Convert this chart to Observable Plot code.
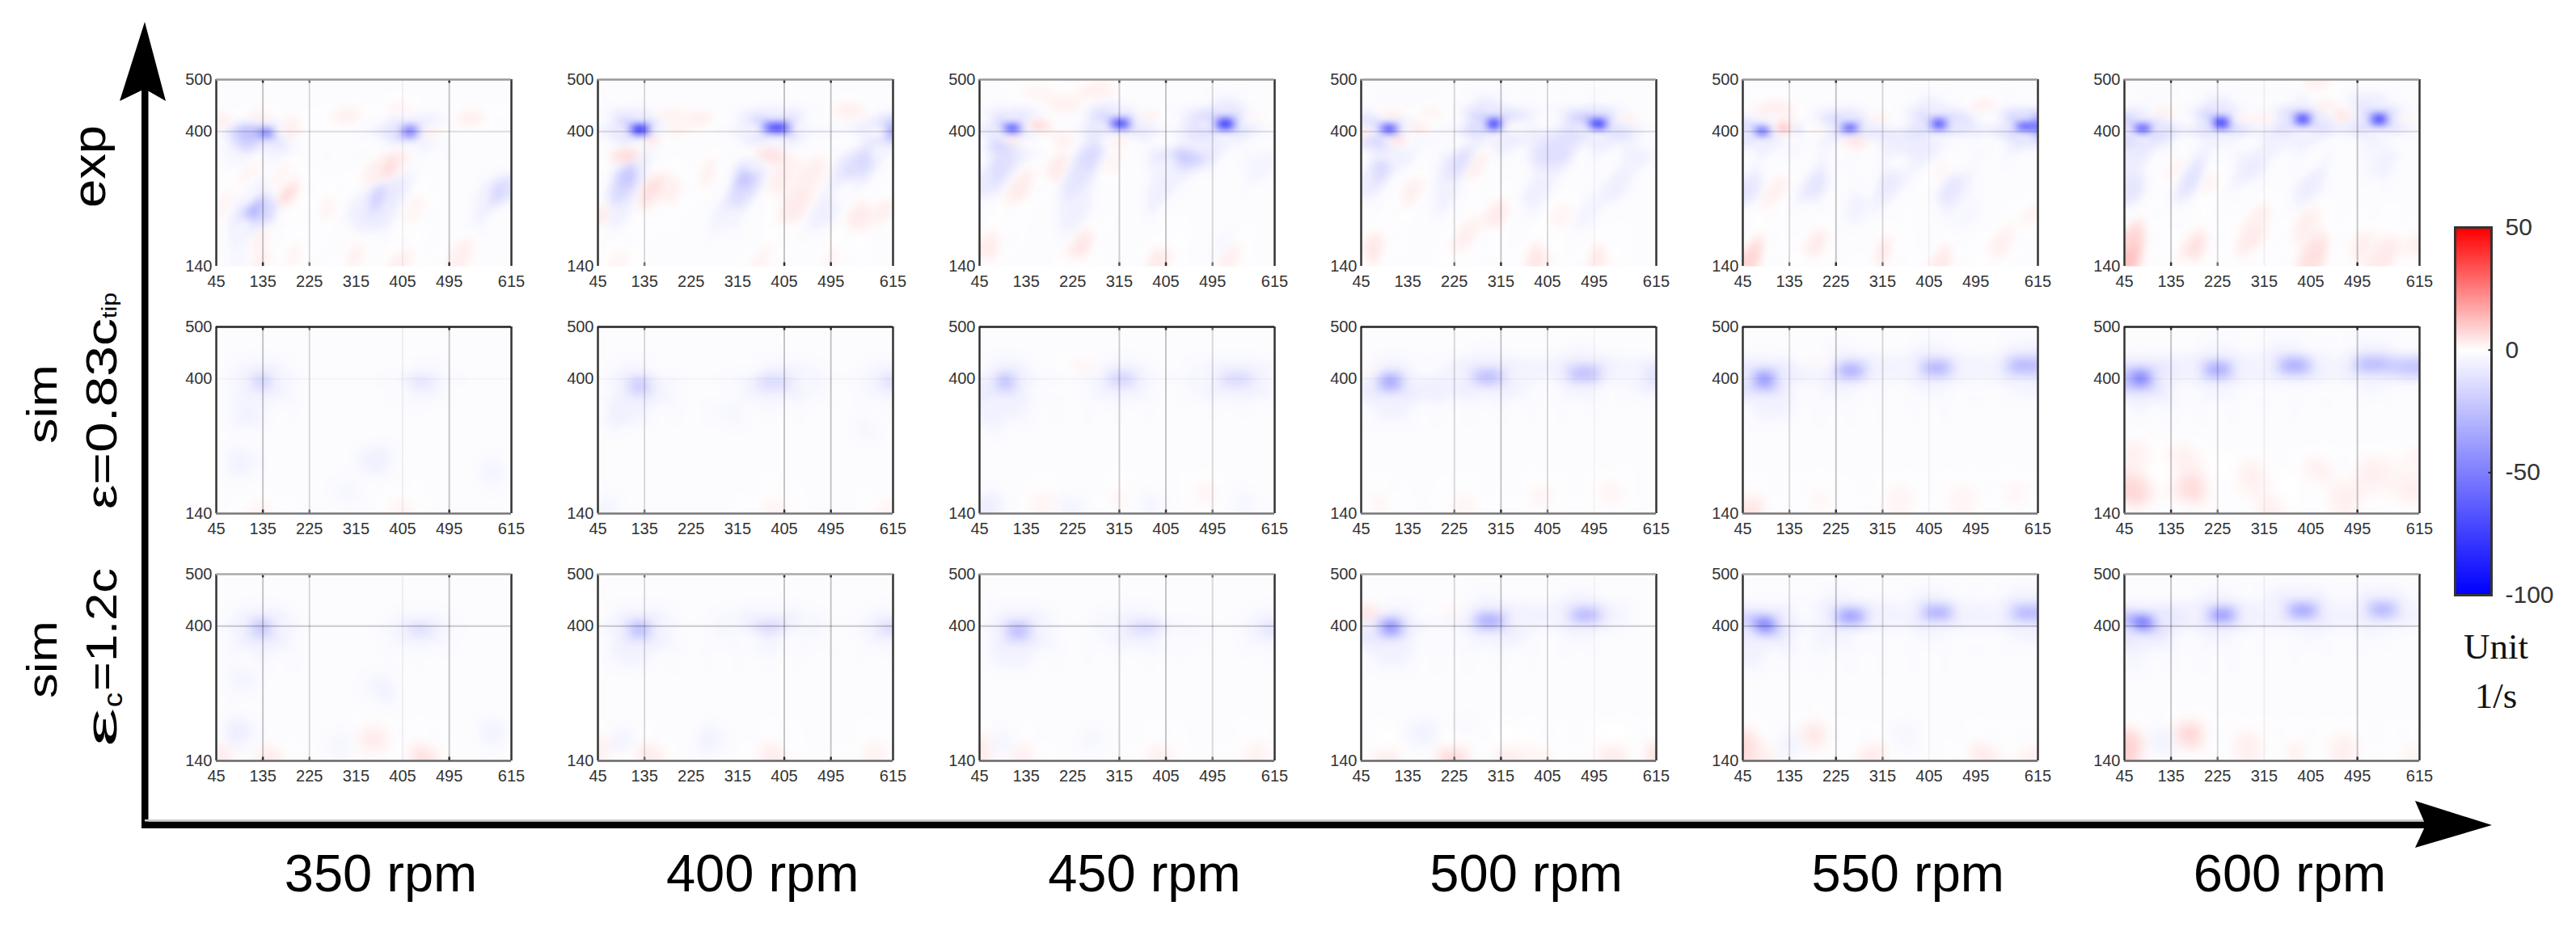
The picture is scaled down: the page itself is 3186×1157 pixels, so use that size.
<!DOCTYPE html>
<html><head><meta charset="utf-8">
<script src="https://cdn.jsdelivr.net/npm/d3@7"></script>
<script src="https://cdn.jsdelivr.net/npm/@observablehq/plot@0.6"></script>
<style>html,body{margin:0;padding:0;background:#fff}#page{position:relative;width:3186px;height:1157px;overflow:hidden;font-family:"Liberation Sans",Arial,sans-serif}#page>*{position:absolute}</style>
</head><body><div id="page"></div>
<script>
// tick labels, categories
const rpms = [350, 400, 450, 500, 550, 600];
const rows = ["exp", "sim083", "sim12"];
const xTicks = [45, 135, 225, 315, 405, 495, 615];
const yTicks = [140, 400, 500];
const colorTicks = [50, 0, -50, -100];
const colorDomain = [-100, 0, 50];
const colorRange = ["#0000ff", "#ffffff", "#ff0000"];
// background lattice of near-zero readings
const anchorAngles = [45, 105, 165, 225, 285, 345, 405, 465, 525, 585, 615];
const anchorRadii = [140, 190, 240, 290, 340, 380, 420, 460, 500];
// grid lines seen per column: [angle, strength]
const grid350 = [[135, .22], [225, .14], [405, .05], [495, .22]];
const grid400 = [[135, .14], [405, .22], [495, .22]];
const grid450 = [[315, .18], [405, .22], [495, .14]];
const grid500 = [[225, .14], [315, .22], [405, .14], [495, .04]];
const grid550 = [[135, .14], [225, .22], [315, .14], [405, .04]];
const grid600 = [[135, .22], [225, .14], [315, .05], [495, .22]];
const line400 = {exp: .12, sim083: .03, sim12: .2};
// readings [angle, radius, value]
const exp350 = [[141,397,-62],[115,397,-25],[167,399,-2],[141,413,-6],[141,383,-8],[105,370,-18],[85,360,-3],[125,360,-2],
[420,400,-58],[391,402,-8],[446,400,-2],[420,424,-4],[420,376,-3],
[50,420,3],[130,428,3],[183,398,5],[190,418,3],[300,430,3],[400,442,2],[454,398,5],[381,330,7],[350,320,3],[400,345,3],
[180,276,8],[180,305,1],[180,250,1],[115,246,-30],[146,242,-15],[100,220,-3],[115,275,-3],[165,225,-2],[355,272,-18],[330,255,-6],[385,285,-8],[360,230,-7],
[590,280,-16],[560,262,-5],[615,300,-10],[131,195,3],[133,153,3],[313,161,3],[193,161,2],[515,161,3],[397,150,3],[89,150,-3],[261,257,2],[53,257,2],[429,250,2],[110,327,2],[167,315,2],[540,425,3]];
const sim083_350 = [[133,395,-20],[100,395,-3],[167,395,-3],[133,425,-3],[133,365,-4],[438,395,-12],[375,395,-2],[495,395,-2],[438,418,-2],[438,370,-3],
[89,238,-5],[105,323,-5],[355,246,-6],[298,178,-3],[584,220,-4],[402,153,2],[131,144,2]];
const sim12_350 = [[133,398,-28],[100,398,-4],[162,398,-3],[133,428,-3],[133,360,-5],[438,395,-15],[391,395,-3],[485,395,-3],[438,420,-2],[438,370,-3],
[87,193,-8],[92,300,-4],[370,275,-5],[287,168,-3],[584,198,-5],[349,180,4],[349,145,1],[53,155,4],[141,148,4],[438,146,6],[110,175,-2]];
const exp400 = [[126,404,-100],[95,402,-5],[157,404,-3],[126,420,-6],[126,386,-4],[391,407,-85],[345,404,-4],[435,407,-3],[391,425,-6],[391,390,-3],[615,400,-35],[590,400,-2],
[105,315,-22],[85,275,-15],[130,340,-6],[329,307,-24],[321,282,-13],[345,335,-5],[558,345,-15],[537,325,-12],[590,360,-4],[81,250,-6],[480,240,-6],[298,230,-4],
[105,353,7],[370,355,6],[149,292,6],[187,280,3],[258,320,3],[397,315,3],[459,320,3],[428,255,4],[548,235,4],[55,240,4],[597,250,3],[144,385,6],[183,430,3],[246,425,3],[532,440,3],[193,402,3],[84,153,2],[360,150,2],[495,155,2]];
const sim083_400 = [[123,387,-24],[90,387,-3],[165,387,-3],[123,420,-3],[123,355,-5],[84,330,-6],[381,395,-16],[320,395,-3],[450,395,-3],[381,420,-3],[381,365,-4],[615,395,-14],[570,395,-3],[615,420,-3],[615,370,-3],
[308,330,-3],[63,150,-4],[558,305,-3],[383,150,2],[610,150,2]];
const sim12_400 = [[123,395,-30],[90,395,-4],[165,395,-3],[123,425,-3],[123,360,-5],[376,398,-18],[300,398,-3],[450,398,-3],[376,420,-3],[376,365,-4],[615,398,-16],[560,398,-3],[615,420,-3],[615,370,-3],
[141,150,4],[376,150,4],[584,158,3],[53,165,3],[89,172,-5],[256,180,-5],[100,145,0]];
const exp450 = [[108,406,-100],[81,404,-6],[136,406,-3],[108,418,-5],[108,394,-3],[316,414,-90],[287,412,-5],[350,414,-5],[316,432,-6],[316,400,-3],[519,414,-92],[490,414,-5],[550,414,-5],[519,435,-8],[519,395,-3],
[84,374,-16],[79,327,-13],[58,310,-8],[256,348,-14],[235,315,-10],[235,250,-6],[438,354,-20],[410,340,-5],[465,370,-6],[391,280,-6],[592,325,-4],[516,180,-3],
[152,410,9],[108,385,6],[121,285,4],[193,327,4],[199,385,3],[61,170,4],[241,175,5],[391,160,4],[524,160,3],[209,450,3],[152,475,2],[269,480,3],[371,430,3],[579,425,2],[314,385,3],[303,340,2]];
const sim083_450 = [[94,395,-32],[68,395,-4],[123,395,-4],[94,425,-4],[94,360,-5],[318,400,-20],[270,400,-3],[370,400,-3],[318,425,-3],[318,375,-4],[542,400,-17],[480,400,-3],[600,400,-3],[542,425,-3],[542,375,-4],
[68,323,-5],[63,157,-7],[219,157,-4],[375,157,-4],[558,160,-4],[246,425,2],[314,170,2],[485,178,2],[173,160,2]];
const sim12_450 = [[115,392,-30],[85,392,-4],[165,392,-3],[115,425,-3],[115,355,-5],[371,398,-16],[290,398,-3],[440,398,-3],[371,420,-3],[371,370,-4],[615,395,-12],[560,395,-3],[615,420,-3],[615,370,-3],
[84,172,-4],[256,180,-3],[53,165,4],[131,150,3],[391,150,3],[584,158,3]];
const exp500 = [[97,405,-100],[74,403,-6],[128,405,-3],[97,418,-5],[97,392,-3],[300,414,-100],[282,414,-5],[324,414,-5],[300,435,-8],[300,395,-3],[503,414,-95],[475,410,-6],[530,414,-6],[503,432,-10],[503,398,-3],
[79,382,-16],[81,327,-15],[60,305,-7],[100,350,-5],[240,343,-12],[209,275,-5],[417,354,-12],[376,280,-6],[537,290,-6],[584,350,-5],[480,240,-4],
[110,385,7],[147,406,5],[105,432,3],[53,400,5],[183,435,2],[141,285,3],[266,335,3],[68,170,5],[246,195,3],[308,237,4],[384,160,5],[501,160,4],[334,410,3],[558,425,3],[433,235,2]];
const sim083_500 = [[100,394,-42],[63,394,-4],[141,394,-4],[100,425,-4],[100,365,-5],[287,404,-30],[240,404,-4],[345,404,-4],[287,430,-4],[287,378,-4],[475,410,-29],[417,410,-4],[537,410,-4],[475,438,-4],[475,383,-4],[610,408,-12],[580,408,-3],
[53,417,2],[79,160,2],[246,160,2],[391,170,2],[527,178,2]];
const sim12_500 = [[102,398,-58],[68,396,-5],[136,398,-5],[102,425,-4],[102,370,-5],[292,410,-40],[240,410,-4],[345,410,-4],[292,435,-4],[292,385,-4],[475,421,-34],[428,421,-4],[537,421,-4],[475,445,-4],[475,398,-4],
[61,424,6],[219,428,2],[219,150,8],[324,150,4],[89,146,4],[532,155,4],[615,155,7],[391,146,2],[167,195,-5],[245,215,-2],[219,172,0],[532,178,0],[89,170,0],[325,175,0]];
const exp550 = [[84,400,-85],[58,398,-6],[105,400,-6],[84,415,-5],[84,388,-3],[123,406,40],[113,406,2],[136,406,2],[123,412,2],[123,400,2],[149,405,-15],[165,405,0],[251,407,-100],[225,407,-5],[279,407,-5],[251,418,-5],[251,396,-3],[423,414,-80],[399,414,-6],[449,414,-6],[423,435,-6],[423,395,-3],[589,410,-100],[560,410,-6],[615,410,-60],[589,420,-6],[589,398,-3],
[53,280,-10],[188,297,-10],[329,307,-8],[444,290,-10],[365,365,-7],[480,240,-3],[266,262,-5],
[61,160,8],[188,180,4],[105,280,3],[261,383,6],[318,170,4],[431,150,4],[542,175,3],[89,440,3],[115,445,3],[188,402,2],[308,425,3],[505,450,3],[427,320,2],[604,240,2]];
const sim083_550 = [[87,400,-50],[53,400,-5],[120,400,-5],[87,430,-4],[87,360,-5],[253,415,-37],[204,415,-4],[303,415,-4],[253,445,-4],[253,390,-4],[420,420,-34],[365,420,-4],[470,420,-4],[420,450,-4],[420,395,-4],[589,425,-32],[527,425,-4],[615,425,-24],[589,455,-4],[589,397,-4],
[63,150,5],[193,170,2],[350,170,2],[470,170,2],[573,178,2],[191,433,2]];
const sim12_550 = [[89,402,-65],[53,395,-6],[120,404,-5],[89,430,-4],[89,375,-5],[253,417,-48],[204,417,-4],[303,417,-4],[253,445,-4],[253,397,-4],[423,426,-38],[365,426,-4],[470,426,-4],[423,450,-4],[423,402,-4],[594,426,-34],[540,426,-4],[615,426,-27],[594,450,-4],[594,400,-4],
[48,165,7],[183,190,5],[89,146,3],[298,150,4],[506,155,4],[610,150,3],[136,172,-5],[360,190,-3],[199,375,-4],[58,360,-5]];
const exp600 = [[81,406,-100],[53,404,-6],[105,406,-6],[81,418,-5],[81,394,-3],[233,417,-95],[206,415,-6],[256,417,-6],[233,435,-8],[233,395,-4],[389,423,-85],[363,423,-6],[415,423,-6],[389,445,-6],[389,405,-3],[537,423,-85],[509,423,-6],[563,423,-6],[537,445,-6],[537,403,-3],
[58,280,-10],[58,350,-7],[175,307,-11],[292,323,-7],[329,370,-5],[402,297,-7],[548,332,-5],
[55,160,12],[58,190,8],[180,170,6],[292,195,4],[308,230,3],[412,160,6],[391,220,3],[498,180,3],[548,160,4],[608,180,3],[121,435,3],[272,425,3],[429,450,3],[466,430,5],[420,498,3],[141,327,2],[209,307,2],[313,425,3],[589,425,2]];
const sim083_600 = [[74,401,-60],[45,401,-16],[113,401,-5],[74,432,-5],[74,368,-6],[225,418,-40],[178,418,-4],[272,418,-4],[225,445,-4],[225,390,-4],[373,425,-37],[318,425,-4],[433,425,-4],[373,455,-4],[373,398,-4],[521,428,-30],[604,425,-24],[460,428,-4],[521,457,-4],[521,400,-4],
[63,178,8],[178,185,7],[63,263,3],[157,255,3],[290,212,3],[319,150,3],[420,220,3],[472,170,3],[524,220,3],[597,178,3],[611,255,2],[115,220,0],[238,220,0],[355,187,0]];
const sim12_600 = [[81,406,-78],[50,398,-9],[113,408,-5],[81,430,-4],[81,385,-5],[233,421,-50],[189,421,-4],[280,421,-4],[233,445,-4],[233,398,-4],[389,430,-42],[337,430,-4],[441,430,-4],[389,455,-4],[389,405,-4],[542,432,-34],[495,432,-4],[594,432,-4],[542,458,-4],[542,405,-4],
[50,165,9],[170,190,8],[282,168,3],[376,155,3],[469,163,3],[603,155,2],[120,172,-5],[58,335,-3]];
const colorbarValues = d3.range(50, -100.5, -1);

const panels = {
  exp: [exp350, exp400, exp450, exp500, exp550, exp600],
  sim083: [sim083_350, sim083_400, sim083_450, sim083_500, sim083_550, sim083_600],
  sim12: [sim12_350, sim12_400, sim12_450, sim12_500, sim12_550, sim12_600]
};
const grids = [grid350, grid400, grid450, grid500, grid550, grid600];
const colorOpts = {type: "linear", domain: colorDomain, range: colorRange, clamp: true};

const samples = [];
for (const row of rows) rpms.forEach((rpm, i) => {
  const pts = panels[row][i];
  for (const [a, r, v] of pts) samples.push({a, r, v, rpm, row});
  for (const a of anchorAngles) for (const r of anchorRadii) {
    if (!pts.some(([pa, pr]) => Math.hypot(pa - a, pr - r) < 32)) samples.push({a, r, v: -1, rpm, row});
  }
});
// spatial interpolator for scattered readings, handed to the raster mark:
// features stretch sideways near the 400 band and (in exp) along the wake below it
const softInterpolate = (lowUx, lowUy, lowRatio) => (index, w, h, X, Y, V) => {
  const out = new Float64Array(w * h);
  const n = index.length;
  const px_ = new Float64Array(n), py_ = new Float64Array(n), ux = new Float64Array(n), uy = new Float64Array(n), k = new Float64Array(n), val = new Float64Array(n);
  for (let j = 0; j < n; ++j) {
    const i = index[j], low = Y[i] > h * .42;
    px_[j] = X[i]; py_[j] = Y[i]; val[j] = V[i];
    ux[j] = low ? lowUx : 1; uy[j] = low ? lowUy : 0;
    k[j] = 1 / (low ? lowRatio : 2.2) ** 2;
  }
  for (let py = 0; py < h; ++py) for (let px = 0; px < w; ++px) {
    let sw = 0, sv = 0;
    for (let j = 0; j < n; ++j) {
      const dx = px + .5 - px_[j], dy = py + .5 - py_[j];
      const along = dx * ux[j] + dy * uy[j], perp = dy * ux[j] - dx * uy[j];
      const d2 = along * along * k[j] + perp * perp + .25;
      const wt = 1 / (d2 * d2);
      sw += wt; sv += wt * val[j];
    }
    out[py * w + px] = sv / sw;
  }
  return out;
};
const cross = (list) => rows.flatMap(row => list.map(d => ({...d, row})));
const gridData = cross(rpms.flatMap((rpm, i) => grids[i].map(([a, s]) => ({a, s, rpm}))));
const tickData = gridData.filter(d => d.s >= .14);
const frameData = rows.flatMap(row => rpms.map(rpm => ({row, rpm})));
const topColor = {exp: "#999", sim083: "#222", sim12: "#aaa"};
const bottomColor = {exp: "none", sim083: "#777", sim12: "#666"};
const fontFamily = '"Liberation Sans",Arial,sans-serif';
const rasterOpts = {x: "a", y: "r", fill: "v", fx: "rpm", fy: "row", x1: 45, x2: 615, y1: 500, y2: 140, pixelSize: 2};

const chart = Plot.plot({
  width: 3186, height: 1157,
  marginLeft: 267, marginRight: 193, marginTop: 98, marginBottom: 216,
  style: {background: "transparent", fontFamily, overflow: "visible"},
  x: {domain: [45, 615], axis: null},
  y: {domain: [140, 500], axis: null},
  fx: {domain: rpms, axis: null, paddingInner: 1 - 365 / 472.4, paddingOuter: 0, align: 0},
  fy: {domain: rows, axis: null, paddingInner: 1 - 231 / 306, paddingOuter: 0, align: 0},
  color: colorOpts,
  marks: [
    Plot.raster(samples.filter(d => d.row === "exp"), {...rasterOpts, blur: 2, interpolate: softInterpolate(.5, -.866, 2.2)}),
    Plot.raster(samples.filter(d => d.row !== "exp"), {...rasterOpts, blur: 3, interpolate: softInterpolate(1, 0, 1)}),
    Plot.ruleX(gridData, {x: "a", fx: "rpm", fy: "row", stroke: "#000", strokeOpacity: "s", strokeWidth: 2}),
    Plot.ruleY(frameData, {y: 400, fx: "rpm", fy: "row", stroke: "#000", strokeOpacity: d => line400[d.row], strokeWidth: 2}),
    Plot.ruleX(tickData, {x: "a", y1: 493, y2: 500, fx: "rpm", fy: "row", stroke: "#000", strokeOpacity: d => d.s * 3.5, strokeWidth: 2.5}),
    Plot.ruleX(tickData, {x: "a", y1: 140, y2: 147, fx: "rpm", fy: "row", stroke: "#000", strokeOpacity: d => d.s * 3.5, strokeWidth: 2.5}),
    Plot.ruleX(frameData, {x: 45, fx: "rpm", fy: "row", stroke: "#333", strokeWidth: 2.5}),
    Plot.ruleX(frameData, {x: 615, fx: "rpm", fy: "row", stroke: "#333", strokeWidth: 2.5}),
    Plot.ruleY(frameData, {y: 500, fx: "rpm", fy: "row", stroke: d => topColor[d.row], strokeWidth: 2.5}),
    Plot.ruleY(frameData, {y: 140, fx: "rpm", fy: "row", stroke: d => bottomColor[d.row], strokeWidth: 2.5}),
    Plot.axisX(xTicks, {anchor: "bottom", facetAnchor: null, tickSize: 0, tickPadding: 11, fontSize: 20, color: "#333", tickFormat: d => String(d), label: null}),
    Plot.axisY(yTicks, {anchor: "left", facetAnchor: null, tickSize: 0, tickPadding: 5, fontSize: 20, color: "#333", tickFormat: d => String(d), label: null})
  ]
});

const colorbar = Plot.plot({
  width: 150, height: 475,
  marginLeft: 0, marginRight: 105, marginTop: 10, marginBottom: 10,
  style: {background: "transparent", fontFamily, overflow: "visible"},
  x: {domain: [0, 1], axis: null},
  y: {domain: [-100, 50], axis: null},
  color: colorOpts,
  marks: [
    Plot.raster(colorbarValues, {width: 1, height: colorbarValues.length, x1: 0, x2: 1, y1: 50, y2: -100, fill: d => d, imageRendering: "auto"}),
    Plot.frame({stroke: "#333", strokeWidth: 3}),
    Plot.ruleY([0, -50], {x1: .92, x2: 1, stroke: "#222", strokeWidth: 2}),
    Plot.axisY(colorTicks, {anchor: "right", tickSize: 0, tickPadding: 17, fontSize: 30, color: "#333", tickFormat: d => String(d), label: null})
  ]
});

const page = document.getElementById("page");
chart.style.left = "0px"; chart.style.top = "0px";
colorbar.style.left = "3036px"; colorbar.style.top = "271px";
page.append(chart, colorbar);

// annotation overlay: arrows and outer labels
const NS = "http://www.w3.org/2000/svg";
const ov = document.createElementNS(NS, "svg");
ov.setAttribute("width", 3186); ov.setAttribute("height", 1157);
ov.style.left = "0"; ov.style.top = "0";
ov.innerHTML = `
<rect x="175" y="100" width="8.5" height="925" fill="#000"/>
<rect x="175" y="1016.5" width="2830" height="8.5" fill="#000"/>
<rect x="179" y="1014" width="2826" height="2.5" fill="#ccc"/>
<path d="M179 27 L205 125 L179 110 L148 125 Z" fill="#000"/>
<path d="M3082 1021 L2987 991 L3000 1021 L2987 1049 Z" fill="#000"/>
<g font-family='"Liberation Sans",Arial,sans-serif' fill="#000">
<text transform="translate(130,257) rotate(-90)" font-size="58" textLength="102" lengthAdjust="spacingAndGlyphs">exp</text>
<text transform="translate(70,549) rotate(-90)" font-size="52" textLength="98" lengthAdjust="spacingAndGlyphs">sim</text>
<text transform="translate(144,630) rotate(-90)" font-size="54" textLength="236" lengthAdjust="spacingAndGlyphs">ε=0.83c</text>
<text transform="translate(144,394) rotate(-90)" font-size="26" textLength="32" lengthAdjust="spacingAndGlyphs">tip</text>
<text transform="translate(70,864) rotate(-90)" font-size="52" textLength="96" lengthAdjust="spacingAndGlyphs">sim</text>
<text transform="translate(144,924) rotate(-90)" font-size="54" textLength="48" lengthAdjust="spacingAndGlyphs">ε</text>
<text transform="translate(151,875) rotate(-90)" font-size="34" textLength="18" lengthAdjust="spacingAndGlyphs">c</text>
<text transform="translate(144,855) rotate(-90)" font-size="54" textLength="152" lengthAdjust="spacingAndGlyphs">=1.2c</text>
${rpms.map((r, i) => `<text x="${471 + i * 472.2}" y="1103" font-size="65" text-anchor="middle">${r} rpm</text>`).join("")}
</g>
<g font-family='"Liberation Serif",serif' fill="#111" text-anchor="middle" font-size="45">
<text x="3087" y="815">Unit</text><text x="3087" y="876">1/s</text>
</g>`;
page.append(ov);
</script></body></html>
